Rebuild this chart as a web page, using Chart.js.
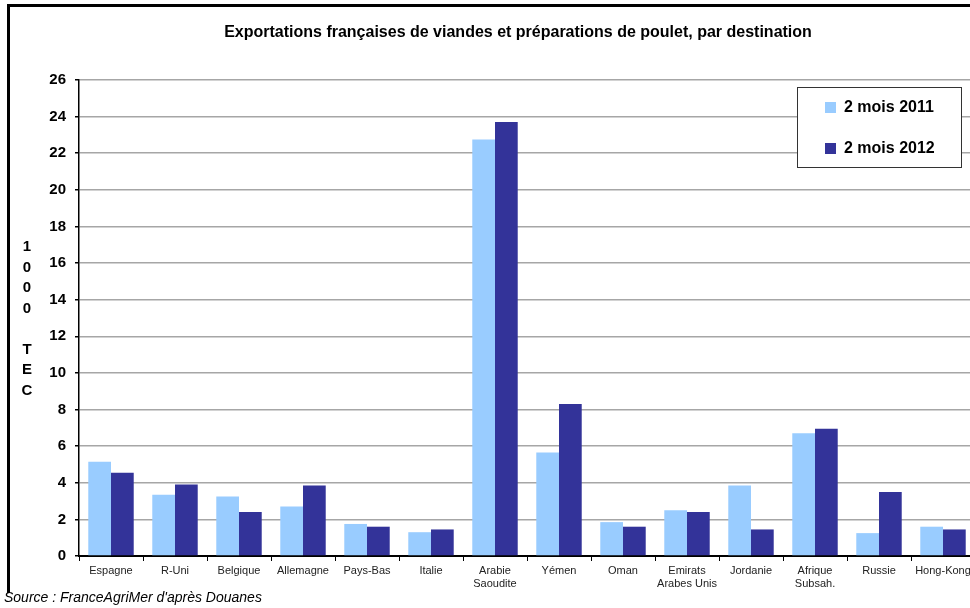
<!DOCTYPE html>
<html>
<head>
<meta charset="utf-8">
<script src="https://cdn.jsdelivr.net/npm/chart.js@4.4.0/dist/chart.umd.min.js"></script>
<style>
  html, body { margin: 0; padding: 0; background: #fff; overflow: hidden; width: 970px; height: 608px; }
  #wrap { position: relative; width: 976px; height: 608px; }
  #frame { position: absolute; left: 7px; top: 4px; width: 980px; height: 586px;
           border-left: 3px solid #000; border-top: 3px solid #000; }
  #source { position: absolute; left: 4px; top: 589px; font: italic 14px Arial, "Liberation Sans", sans-serif; color: #000; }
  canvas { position: absolute; left: 0; top: 0; }
</style>
</head>
<body>
<div id="wrap">
  <div id="frame"></div>
  <canvas id="chart" width="976" height="608"></canvas>
  <div id="source">Source : FranceAgriMer d'après Douanes</div>
</div>
<script>
// destinations
const categories = [
  'Espagne', 'R-Uni', 'Belgique', 'Allemagne', 'Pays-Bas', 'Italie',
  ['Arabie', 'Saoudite'], 'Yémen', 'Oman', ['Emirats', 'Arabes Unis'],
  'Jordanie', ['Afrique', 'Subsah.'], 'Russie', 'Hong-Kong'
]
const seriesLabels = ['2 mois 2011', '2 mois 2012']
const values2011 = [5.15, 3.35, 3.25, 2.7, 1.75, 1.3, 22.75, 5.65, 1.85, 2.5, 3.85, 6.7, 1.25, 1.6]
const values2012 = [4.55, 3.9, 2.4, 3.85, 1.6, 1.45, 23.7, 8.3, 1.6, 2.4, 1.45, 6.95, 3.5, 1.45]
const yTitle = '1000 TEC'
const chartTitle = 'Exportations françaises de viandes et préparations de poulet, par destination'

const font = 'Arial, "Liberation Sans", sans-serif'

const decorPlugin = {
    id: 'decor',
    afterDraw(chart) {
        const ctx = chart.ctx
        ctx.save()
        // title
        ctx.fillStyle = '#000'
        ctx.font = 'bold 16px ' + font
        ctx.textAlign = 'center'
        ctx.textBaseline = 'middle'
        ctx.fillText(chartTitle, 518, 33)

        // vertical y title, one char per line
        ctx.font = 'bold 15px ' + font
        let y = 247
        for (const ch of yTitle) {
            if (ch !== ' ') ctx.fillText(ch, 27, y)
            y += 20.5
        }

        // legend box
        ctx.strokeStyle = '#333'
        ctx.lineWidth = 1
        ctx.fillStyle = '#fff'
        ctx.fillRect(797.5, 87.5, 164, 80)
        ctx.strokeRect(797.5, 87.5, 164, 80)
        ctx.font = 'bold 16px ' + font
        ctx.textAlign = 'left'
        chart.data.datasets.forEach((ds, i) => {
            const ly = 107 + i * 41
            ctx.fillStyle = ds.backgroundColor
            ctx.fillRect(825, ly - 5, 11, 11)
            ctx.fillStyle = '#000'
            ctx.fillText(ds.label, 844, ly + 1)
        })
        ctx.restore()
    }
}

new Chart(document.getElementById('chart'), {
    type: 'bar',
    data: {
        labels: categories,
        datasets: [
            { label: seriesLabels[0], data: values2011, backgroundColor: '#99ccff' },
            { label: seriesLabels[1], data: values2012, backgroundColor: '#333399' }
        ]
    },
    options: {
        responsive: false,
        animation: false,
        maintainAspectRatio: false,
        layout: { padding: { top: 80, right: 1, bottom: 0, left: 0 } },
        plugins: {
            legend: { display: false },
            title: { display: false },
            tooltip: { enabled: false }
        },
        datasets: {
            bar: { categoryPercentage: 0.71, barPercentage: 1 }
        },
        scales: {
            x: {
                afterFit(scale) { scale.height = 52 },
                grid: {
                    offset: true,
                    drawOnChartArea: false,
                    tickLength: 5,
                    color: '#000',
                    lineWidth: 1
                },
                border: { color: '#000', width: 2 },
                ticks: {
                    font: { family: font, size: 11 },
                    color: '#222',
                    padding: 3,
                    maxRotation: 0,
                    autoSkip: false
                }
            },
            y: {
                min: 0,
                max: 26,
                afterFit(scale) { scale.width = 79 },
                grid: {
                    color: '#a6a6a6',
                    lineWidth: 1.5,
                    tickLength: 4,
                    tickColor: '#000'
                },
                border: { color: '#000', width: 1.5 },
                ticks: {
                    stepSize: 2,
                    font: { family: font, size: 15, weight: 'bold' },
                    color: '#000',
                    padding: 9
                }
            }
        }
    },
    plugins: [decorPlugin]
})
</script>
</body>
</html>
